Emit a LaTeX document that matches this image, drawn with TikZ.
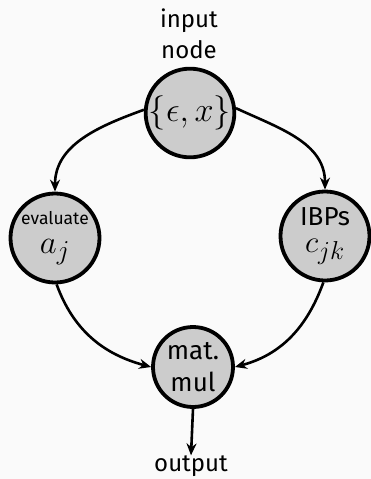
\documentclass[tikz,border=0pt]{standalone}
\usepackage{fontspec}
\setmainfont{Fira Sans}
\usetikzlibrary{arrows.meta}
\definecolor{bgcol}{HTML}{FAFAFA}
\definecolor{nodefill}{HTML}{CCCCCC}
% large math, scaled past the largest fixed CM size
\newcommand{\bigmath}[2]{{\fontsize{24.88}{30}\selectfont\scalebox{#1}{$#2$}}}
\begin{document}
\begin{tikzpicture}[x=1pt,y=-1pt,
  proc/.style={circle,draw=black,fill=nodefill,line width=3.8pt,inner sep=0pt,align=center,font=\fontsize{26}{32}\selectfont},
  lbl/.style={align=center,font=\fontsize{24}{31}\selectfont,inner sep=0pt},
  flow/.style={line width=2.6pt,-{Stealth[length=12pt,width=10pt]}}]
  \useasboundingbox[fill=bgcol] (0,0) rectangle (371,479);
  % nodes
  \node[proc,minimum size=80pt] (inp) at (190,113) {\bigmath{1.38}{\{\epsilon,x\}}};
  \node[proc,minimum size=89pt] (eval) at (55,238) {{\fontsize{17.5}{18}\selectfont evaluate}\\[-3pt]\bigmath{1.32}{a_j}};
  \node[proc,minimum size=89pt] (ibp) at (325,236) {IBPs\\[-5pt]\bigmath{1.25}{c_{jk}}};
  \node[proc,minimum size=80pt] (mm) at (193,367) {mat.\\mul};
  \node[lbl] (title) at (189,34) {input\\node};
  \node[lbl] (outp) at (191,466) {output};
  % connectors
  \draw[flow] (inp.176) to[out=200,in=90] (eval.north);
  \draw[flow] (inp.6) to[out=-25,in=90] (ibp.north);
  \draw[flow] (eval.-88) to[out=-70,in=165] (mm.west);
  \draw[flow] (ibp.-92) to[out=-110,in=15] (mm.east);
  \draw[flow] (mm.south) -- (outp.north);
\end{tikzpicture}
\end{document}
